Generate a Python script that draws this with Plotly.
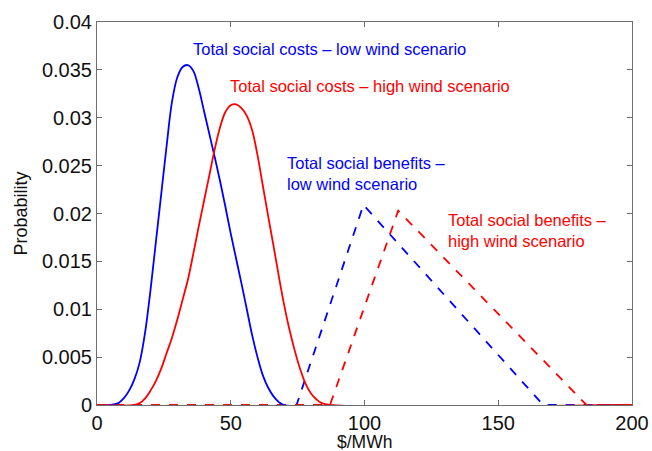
import plotly.graph_objects as go

# Total social costs, low wind scenario ($/MWh, probability)
cost_low_x = [0, 5, 8, 10, 12, 14, 16, 18, 20, 22, 24, 26, 28, 30, 32, 34, 36, 38, 40, 42, 44,
              46, 48, 50, 52, 54, 56, 58, 60, 62, 64, 66, 68, 70, 200]
cost_low_y = [0, 0, 0.0002, 0.0007, 0.0015, 0.0027, 0.0045, 0.0076, 0.0120, 0.0170, 0.0220, 0.0270,
              0.0316, 0.0342, 0.0353, 0.0355, 0.0349, 0.0331, 0.0307, 0.0283, 0.0259,
              0.0234, 0.0207, 0.0179, 0.0153, 0.0127, 0.0100, 0.0073, 0.0050, 0.0031, 0.0018,
              0.0009, 0.0003, 0, 0]

# Total social costs, high wind scenario
cost_high_x = [0, 14, 16, 18, 20, 22, 24, 26, 28, 30, 32, 34, 36, 38, 40, 42, 44, 46, 48, 50, 52,
               54, 56, 58, 60, 62, 64, 66, 68, 70, 72, 74, 76, 78, 80, 82, 84, 87, 200]
cost_high_y = [0, 0, 0.0002, 0.0007, 0.0015, 0.0025, 0.0038, 0.0054, 0.0070, 0.0089, 0.0110,
               0.0131, 0.0158, 0.0186, 0.0213, 0.0240, 0.0267, 0.0290, 0.0306, 0.0313, 0.0314,
               0.0310, 0.0302, 0.0287, 0.0261, 0.0229, 0.0197, 0.0166, 0.0134, 0.0104, 0.0078,
               0.0056, 0.0037, 0.0022, 0.0012, 0.0006, 0.0002, 0, 0]

# Total social benefits (triangular shapes)
ben_low_x = [0, 74.6, 99.6, 166.8, 200]
ben_low_y = [0, 0, 0.0209, 0, 0]
ben_high_x = [0, 87.1, 112.6, 183, 200]
ben_high_y = [0, 0, 0.0203, 0, 0]

x_ticks = [0, 50, 100, 150, 200]
y_ticks = [0, 0.005, 0.01, 0.015, 0.02, 0.025, 0.03, 0.035, 0.04]
y_tick_text = ["0", "0.005", "0.01", "0.015", "0.02", "0.025", "0.03", "0.035", "0.04"]

BLUE = "#0000ff"
RED = "#ff0000"
FONT = "Liberation Sans, Arial, Helvetica, sans-serif"

fig = go.Figure()
fig.add_trace(go.Scatter(x=ben_low_x, y=ben_low_y, mode="lines",
                         line=dict(color=BLUE, width=1.8, dash="dash")))
fig.add_trace(go.Scatter(x=ben_high_x, y=ben_high_y, mode="lines",
                         line=dict(color=RED, width=1.8, dash="dash")))
fig.add_trace(go.Scatter(x=cost_low_x, y=cost_low_y, mode="lines",
                         line=dict(color=BLUE, width=1.8, shape="spline", smoothing=1)))
fig.add_trace(go.Scatter(x=cost_high_x, y=cost_high_y, mode="lines",
                         line=dict(color=RED, width=1.8, shape="spline", smoothing=1)))

labels = [
    (35.0, 0.0372, "Total social costs – low wind scenario", BLUE),
    (48.9, 0.0333, "Total social costs – high wind scenario", RED),
    (70.2, 0.0242, "Total social benefits –<br>low wind scenario", BLUE),
    (130.5, 0.0182, "Total social benefits –<br>high wind scenario", RED),
]
for x, y, text, color in labels:
    fig.add_annotation(x=x, y=y, text=text, showarrow=False, xanchor="left",
                       yanchor="middle", align="left",
                       font=dict(family=FONT, size=16.5, color=color))

# x-axis title placed just under the tick labels
fig.add_annotation(x=0.5, y=-0.096, xref="paper", yref="paper", text="$/MWh",
                   showarrow=False, xanchor="center", yanchor="middle",
                   font=dict(family=FONT, size=17.5, color="#111"))

axis_common = dict(showline=True, linecolor="#6e6e6e", linewidth=1, mirror="ticks",
                   ticks="inside", ticklen=5, tickcolor="#6e6e6e", showgrid=False,
                   zeroline=False, automargin=False,
                   tickfont=dict(family=FONT, size=20, color="#111"))

fig.update_xaxes(range=[0, 200], tickvals=x_ticks, **axis_common)
fig.update_yaxes(range=[0, 0.04], tickvals=y_ticks, ticktext=y_tick_text,
                 title=dict(text="Probability", font=dict(family=FONT, size=18, color="#111"), standoff=9),
                 **axis_common)

fig.update_layout(width=652, height=451, showlegend=False,
                  paper_bgcolor="white", plot_bgcolor="white",
                  margin=dict(l=97, r=20, t=22, b=46))

fig.write_html("out.html")
